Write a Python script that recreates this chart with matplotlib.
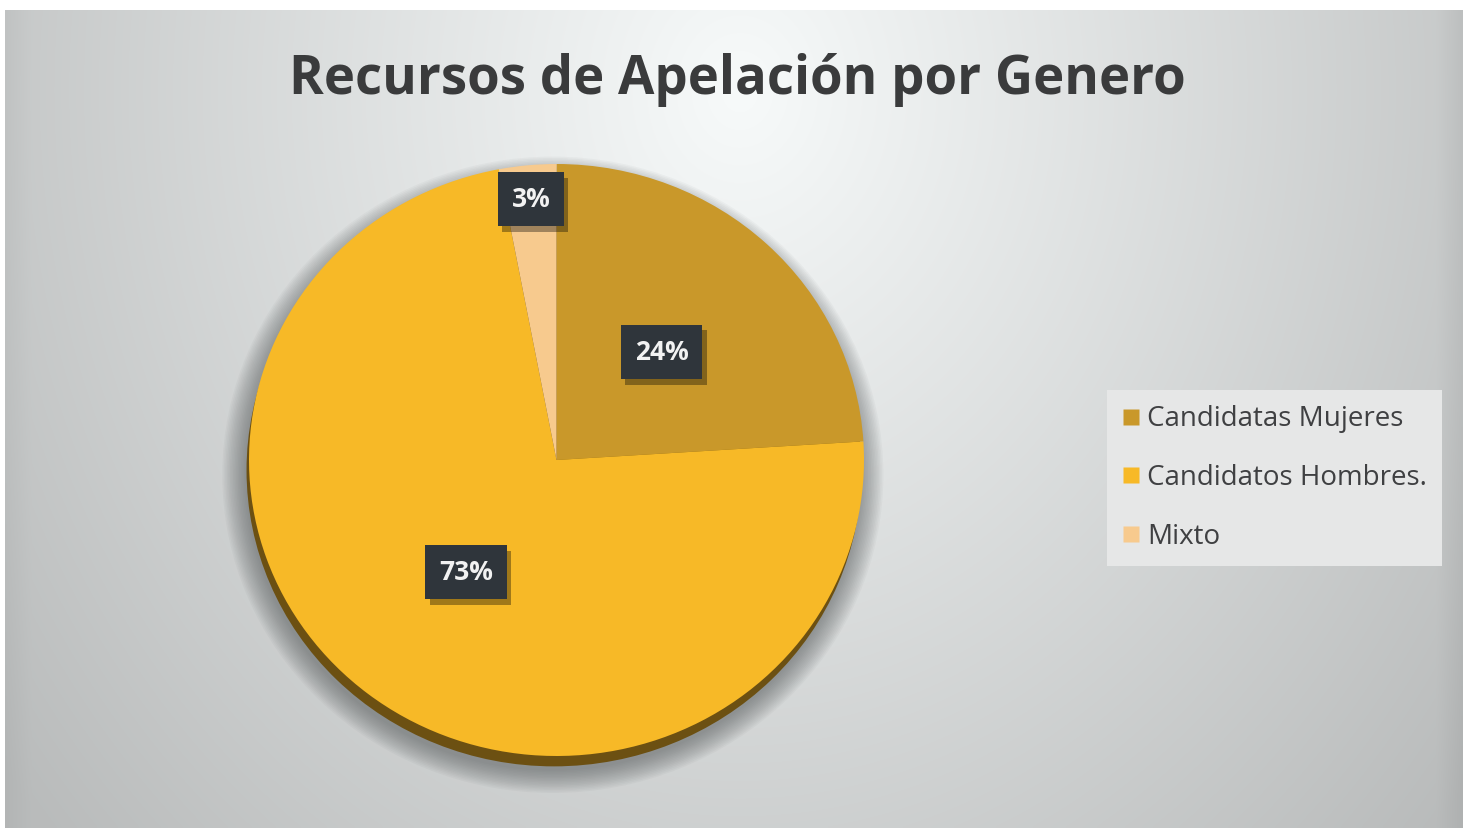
import numpy as np
import matplotlib
matplotlib.use("Agg")
import matplotlib.pyplot as plt
from matplotlib.patches import Ellipse
import matplotlib.patheffects as pe

# ---- data ----
title = "Recursos de Apelación por Genero"
categories = ["Candidatas Mujeres", "Candidatos Hombres.", "Mixto"]
values = [24, 73, 3]
labels = ["24%", "73%", "3%"]
colors = ["#C9982A", "#F7B927", "#F7CA8E"]
label_dist = [0.50, 0.48, 0.885]

W, H = 1469, 830
fig = plt.figure(figsize=(W / 100, H / 100), dpi=100)
fig.patch.set_facecolor("white")

# ---- background gradient panel ----
bg = fig.add_axes([5 / W, 2 / H, 1458 / W, 818 / H])
xs = np.linspace(5, 1463, 400)
ys = np.linspace(10, 828, 240)
X, Y = np.meshgrid(xs, ys)
d = np.sqrt(((X - 740) / 800) ** 2 + ((Y - 90) / 950) ** 2)
val = np.clip(251 - 54 * d, 188, 255)
edge = np.clip(1 - (1463 - X) / 25, 0, 1) * 10 + np.clip(1 - (X - 5) / 25, 0, 1) * 6
val = (val - edge) / 255
img = np.dstack([val * 0.985, val * 0.997, val * 0.997])
bg.imshow(np.clip(img, 0, 1), aspect="auto", extent=[0, 1, 0, 1], origin="upper",
          interpolation="bilinear")
bg.set_axis_off()

# ---- pie ----
cx, cy, rx, ry = 556.5, 460, 307.5, 296
ax = fig.add_axes([(cx - rx) / W, 1 - (cy + ry) / H, 2 * rx / W, 2 * ry / H])
# soft shadow
for i in range(16):
    r = 1.0 + 0.005 * i
    ax.add_patch(Ellipse((-0.012, -0.05), 2 * r, 2 * r, color="#55595a",
                         alpha=0.045, lw=0, zorder=0, clip_on=False))
# bevel rim
ax.add_patch(Ellipse((-0.008, -0.035), 2.0, 2.0, color="#6C5012", lw=0,
                     zorder=1, clip_on=False))
wedges, _ = ax.pie(values, colors=colors, startangle=90, counterclock=False,
                   radius=1.0, wedgeprops=dict(linewidth=0))
for w in wedges:
    w.set_zorder(2)
ax.set_aspect("auto")
ax.set_xlim(-1, 1)
ax.set_ylim(-1, 1)
ax.set_axis_off()

for w, lab, dist in zip(wedges, labels, label_dist):
    ang = np.deg2rad((w.theta1 + w.theta2) / 2)
    tx, ty = dist * np.cos(ang), dist * np.sin(ang)
    t = ax.text(tx, ty, lab, ha="center", va="center", fontsize=19,
                fontweight="bold", family="Open Sans", color="#F2F2F2", zorder=4,
                bbox=dict(boxstyle="square,pad=0.52", fc="#2F353B", ec="none"))
    t.get_bbox_patch().set_path_effects([
        pe.SimplePatchShadow(offset=(3, -4), shadow_rgbFace="#000000", alpha=0.35),
        pe.Normal()])

# ---- title ----
fig.text(737 / W, 1 - 80 / H, title, ha="center", va="center", fontsize=38,
         fontweight="bold", family="Open Sans", color="#3A3B3C")

# ---- legend ----
handles = [plt.Line2D([], [], marker="s", linestyle="none", markersize=11,
                      markerfacecolor=c, markeredgecolor="none") for c in colors]
leg = fig.legend(handles, categories, loc="center left",
                 bbox_to_anchor=(1107 / W, 1 - 478 / H), frameon=True,
                 prop=dict(family="Open Sans", size=20), labelspacing=1.1,
                 handlelength=0.6, handletextpad=0.3, borderpad=0.55,
                 borderaxespad=0, fancybox=False)
leg.get_frame().set_facecolor("#E6E7E7")
leg.get_frame().set_edgecolor("none")
leg.get_frame().set_alpha(1)
for t in leg.get_texts():
    t.set_color("#3F4042")

fig.savefig("out.png", dpi=100, facecolor=fig.get_facecolor())
